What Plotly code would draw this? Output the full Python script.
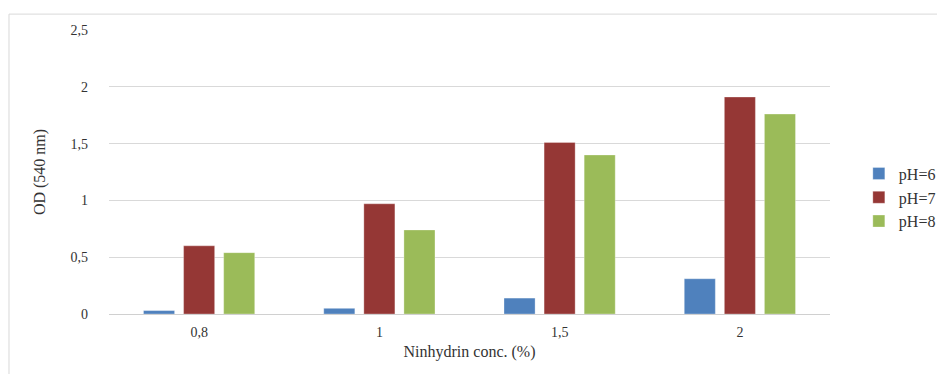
import plotly.graph_objects as go

categories = ["0,8", "1", "1,5", "2"]
series_names = ["pH=6", "pH=7", "pH=8"]
ph6 = [0.03, 0.05, 0.14, 0.31]
ph7 = [0.60, 0.97, 1.51, 1.91]
ph8 = [0.54, 0.74, 1.40, 1.76]
colors = ["#4F81BD", "#953735", "#9BBB59"]
tick_vals = [0, 0.5, 1, 1.5, 2, 2.5]
tick_text = ["0", "0,5", "1", "1,5", "2", "2,5"]

font_family = "Times New Roman"

fig = go.Figure()
for name, vals, col in zip(series_names, [ph6, ph7, ph8], colors):
    fig.add_trace(go.Bar(
        x=categories, y=vals, name=name,
        marker=dict(color=col, line=dict(color="rgba(255,255,255,0.6)", width=0.5)),
    ))

fig.update_layout(
    width=945, height=374,
    margin=dict(l=101, r=123, t=22, b=68),
    paper_bgcolor="white", plot_bgcolor="white",
    barmode="group", bargap=0.333, bargroupgap=0.225,
    font=dict(family=font_family, color="#333333", size=14),
    showlegend=True,
    legend=dict(x=1.04, y=0.41, xanchor="left", yanchor="middle",
                font=dict(family=font_family, size=16, color="#333333"),
                tracegroupgap=6, itemwidth=30),
    xaxis=dict(
        type="category", showgrid=False, ticks="", showline=False,
        ticklabelstandoff=8,
        tickfont=dict(family=font_family, size=14, color="#333333"),
        title=dict(text="Ninhydrin conc. (%)", standoff=6,
                   font=dict(family=font_family, size=16, color="#333333")),
    ),
    yaxis=dict(
        range=[0, 2.5], tickvals=tick_vals, ticktext=tick_text,
        showgrid=True, gridcolor="#D9D9D9", gridwidth=1,
        zeroline=True, zerolinecolor="#D0D0D0", zerolinewidth=1,
        showline=False, ticks="", ticklabelstandoff=20,
        tickfont=dict(family=font_family, size=14, color="#333333"),
        title=dict(text="OD (540 nm)", standoff=20,
                   font=dict(family=font_family, size=16, color="#333333")),
    ),
    shapes=[
        dict(type="line", xref="paper", yref="paper", x0=-0.1387, x1=-0.1387, y0=1.056, y1=-0.3,
             line=dict(color="#D9D9D9", width=1)),
        dict(type="line", xref="paper", yref="paper", x0=-0.1387, x1=1.2, y0=1.056, y1=1.056,
             line=dict(color="#D9D9D9", width=1)),
    ],
)

fig.write_html("out.html")
